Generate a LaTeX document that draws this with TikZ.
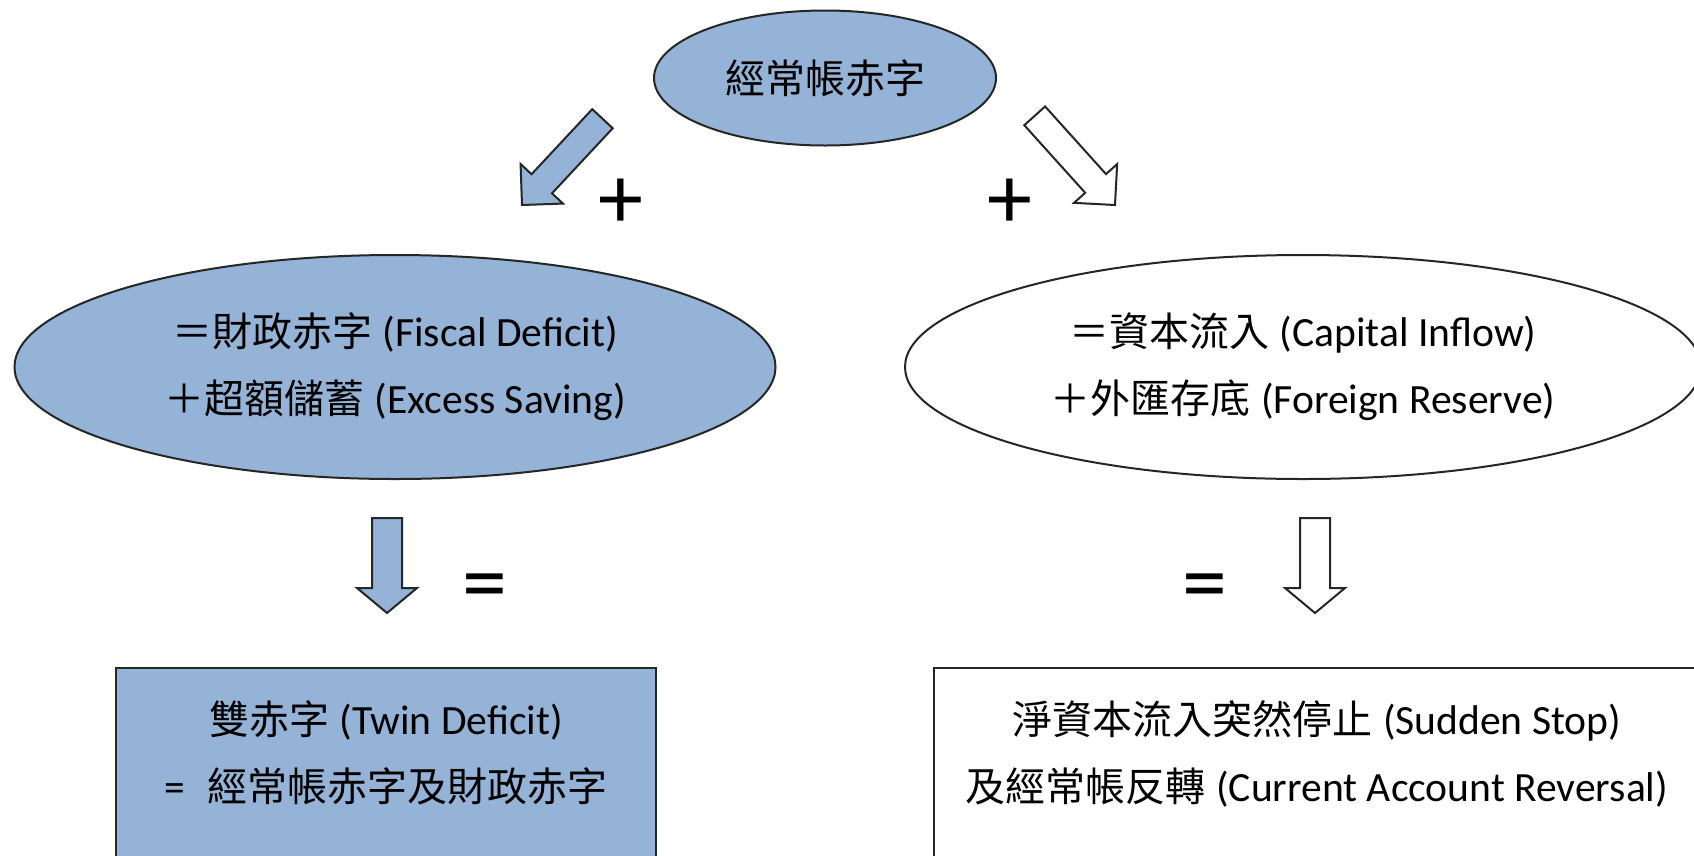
\documentclass[tikz,border=0pt]{standalone}
\usepackage{fontspec}
\setmainfont{Carlito}
\newfontfamily\cjkfont{Noto Sans CJK TC}
\newcommand\zh[1]{{\fontsize{40}{67}\cjkfont #1}}
\usetikzlibrary{shapes.geometric}
\definecolor{fillblue}{HTML}{95B3D7}
\definecolor{edgegray}{HTML}{262626}
% block arrow: #1 tip, #2 rotation, #3 length, #4 head length, #5 head half width, #6 shaft half width, #7 style
\newcommand\blkarrow[7]{%
  \draw[#7, shift={#1}, rotate=#2]
    (-#3,-#6) -- (-#4,-#6) -- (-#4,-#5) -- (0,0) -- (-#4,#5) -- (-#4,#6) -- (-#3,#6) -- cycle;}
\newcommand\gap{\hspace{0.25em}}
\begin{document}
\begin{tikzpicture}[x=1pt,y=-1pt,
  txt/.style={font=\fontsize{41.6}{67}\selectfont, align=center, text=black},
  oval/.style={ellipse, draw=edgegray, line width=2pt, inner sep=0pt, txt},
  box/.style={rectangle, draw=edgegray, line width=2pt, inner sep=0pt, txt},
  sym/.style={font=\fontsize{90}{90}\selectfont, inner sep=0pt, text=black},
  bluearrow/.style={fill=fillblue, draw=edgegray, line width=2pt, line join=miter},
  whitearrow/.style={fill=white, draw=edgegray, line width=2pt, line join=miter}
]
\useasboundingbox (0,0) rectangle (1694,855);
\clip (0,0) rectangle (1694,855);
\fill[white] (0,0) rectangle (1694,855);

% top
\node[oval, fill=fillblue, minimum width=342pt, minimum height=135pt] (ca) at (825,78) {\zh{經常帳赤字}};

% middle ellipses
\node[oval, fill=fillblue, minimum width=761pt, minimum height=224pt] (fd) at (395,367)
  {\zh{＝財政赤字}\gap(Fiscal Deficit)\\\zh{＋超額儲蓄}\gap(Excess Saving)};
\node[oval, fill=white, minimum width=796pt, minimum height=224pt] (ci) at (1303,367)
  {\zh{＝資本流入}\gap(Capital Inflow)\\\zh{＋外匯存底}\gap(Foreign Reserve)};

% bottom boxes
\node[box, fill=fillblue, minimum width=540pt, minimum height=234pt] (tw) at (386,785)
  {\zh{雙赤字}\gap(Twin Deficit)\\=\hspace{0.55em}\zh{經常帳赤字及財政赤字}\\\mbox{}};
\node[box, fill=white, minimum width=766pt, minimum height=234pt] (ss) at (1317,785)
  {\zh{淨資本流入突然停止}\gap(Sudden Stop)\\\zh{及經常帳反轉}\gap(Current Account Reversal)\\\mbox{}};

% block arrows
\blkarrow{(522,205)}{227}{118}{29}{29}{14}{bluearrow}
\blkarrow{(1115,205)}{-48}{120}{29}{29}{14}{whitearrow}
\blkarrow{(387,613)}{-90}{95}{25}{30}{15}{bluearrow}
\blkarrow{(1315,613)}{-90}{95}{25}{30}{15}{whitearrow}

% operators
\node[sym] (plusL) at (621,204) {+};
\node[sym] (plusR) at (1010,204) {+};
\node[sym] (eqL) at (485,593) {=};
\node[sym] (eqR) at (1205,593) {=};
\end{tikzpicture}
\end{document}
